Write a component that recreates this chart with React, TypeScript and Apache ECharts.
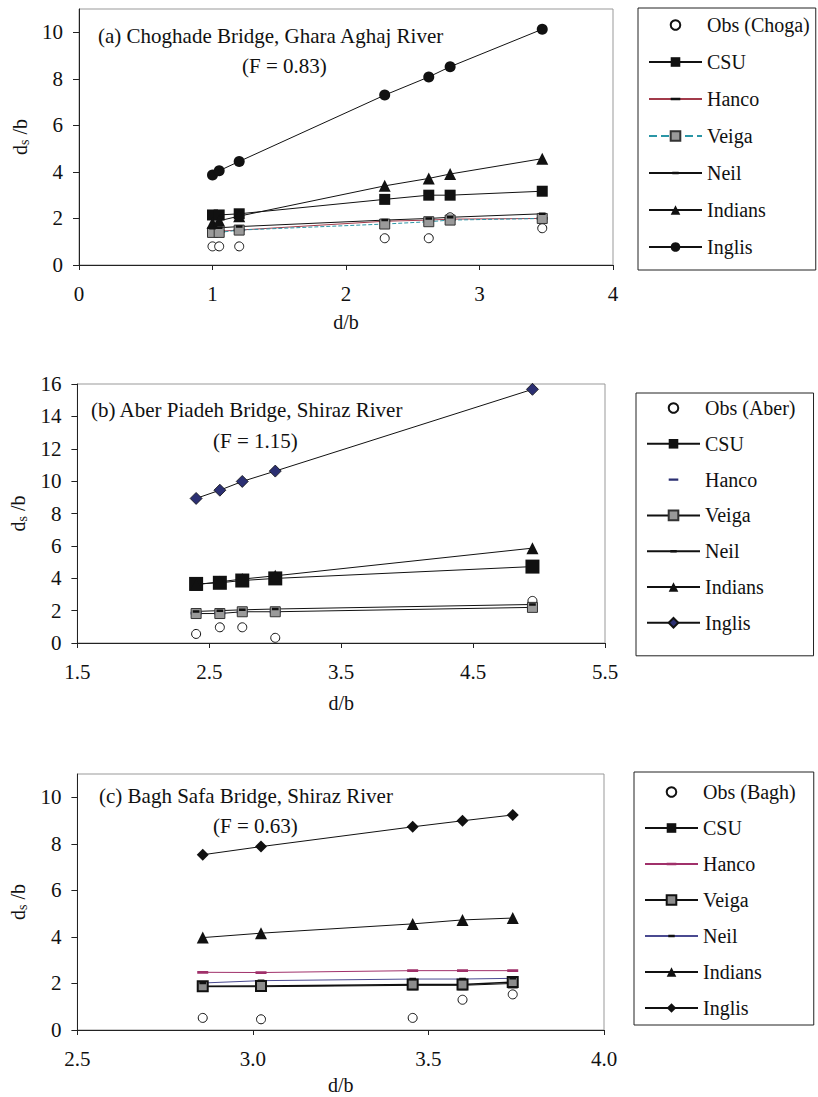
import React, { useEffect, useRef } from 'react';
import * as echarts from 'echarts';

const FONT = '"Liberation Serif", "Times New Roman", serif';

// ---------- Panel (a) Choghade Bridge ----------
const xA = [1.0, 1.05, 1.2, 2.29, 2.62, 2.78, 3.47];
const obsA = [0.8, 0.8, 0.8, 1.15, 1.15, 2.05, 1.58];
const csuA = [2.15, 2.15, 2.2, 2.82, 3.0, 3.0, 3.17];
const hancoA = [1.45, 1.45, 1.5, 1.88, 1.93, 1.97, 2.0];
const veigaA = [1.4, 1.4, 1.5, 1.76, 1.86, 1.93, 2.0];
const neilA = [1.58, 1.6, 1.65, 1.93, 2.0, 2.05, 2.2];
const indiansA = [1.8, 1.9, 2.1, 3.4, 3.72, 3.91, 4.57];
const inglisA = [3.87, 4.05, 4.45, 7.3, 8.08, 8.52, 10.13];

// ---------- Panel (b) Aber Piadeh Bridge ----------
const xB = [2.4, 2.58, 2.75, 3.0, 4.95];
const obsB = [0.56, 0.97, 0.97, 0.32, 2.6];
const csuB = [3.65, 3.72, 3.86, 3.99, 4.72];
const hancoB = [1.85, 1.85, 1.9, 1.92, 2.15];
const veigaB = [1.82, 1.82, 1.93, 1.93, 2.2];
const neilB = [1.95, 2.0, 2.05, 2.1, 2.38];
const indiansB = [3.6, 3.78, 3.95, 4.15, 5.86];
const inglisB = [8.93, 9.44, 9.98, 10.62, 15.67];

// ---------- Panel (c) Bagh Safa Bridge ----------
const xC = [2.857, 3.023, 3.455, 3.597, 3.74];
const obsC = [0.52, 0.46, 0.52, 1.3, 1.53];
const csuC = [1.86, 1.86, 1.92, 1.92, 2.0];
const hancoC = [2.48, 2.47, 2.55, 2.55, 2.55];
const veigaC = [1.88, 1.89, 1.96, 1.96, 2.06];
const neilC = [2.02, 2.12, 2.19, 2.19, 2.22];
const indiansC = [3.97, 4.16, 4.56, 4.73, 4.81];
const inglisC = [7.53, 7.88, 8.73, 8.99, 9.24];

// ---------- Axis ticks ----------
const xTicksA = [0, 1, 2, 3, 4];
const yTicksA = [0, 2, 4, 6, 8, 10];
const xTicksB = [1.5, 2.5, 3.5, 4.5, 5.5];
const yTicksB = [0, 2, 4, 6, 8, 10, 12, 14, 16];
const xTicksC = [2.5, 3.0, 3.5, 4.0];
const yTicksC = [0, 2, 4, 6, 8, 10];

const obsNames = ['Obs (Choga)', 'Obs (Aber)', 'Obs (Bagh)'];
const modelNames = ['CSU', 'Hanco', 'Veiga', 'Neil', 'Indians', 'Inglis'];
const titlesMain = [
  '(a) Choghade Bridge, Ghara Aghaj River',
  '(b) Aber Piadeh Bridge, Shiraz River',
  '(c) Bagh Safa Bridge, Shiraz River',
];
const titlesF = ['(F = 0.83)', '(F = 1.15)', '(F = 0.63)'];

// dash marker with a square bounding box (tiny corner specks keep aspect)
const DASH = 'path://M0,0L0.01,0L0,0.01ZM12,12L11.99,12L12,11.99ZM0,4.5H12V7.5H0Z';
const DASH_SMALL = 'path://M0,0L0.01,0L0,0.01ZM12,12L11.99,12L12,11.99ZM2,4.5H10V7.5H2Z';

const zip = (xs: number[], ys: number[]) => xs.map((x, i) => [x, ys[i]]);

type St = {
  symbol: string;
  size: number;
  fill: string;
  border?: string;
  borderWidth?: number;
  line?: string;
  lineType?: string;
  lineWidth?: number;
};

function mk(panel: number, name: string, xs: number[], ys: number[], st: St) {
  return {
    type: 'line',
    name: `${'abc'[panel]}:${name}`,
    xAxisIndex: panel,
    yAxisIndex: panel,
    data: zip(xs, ys),
    symbol: st.symbol,
    symbolSize: st.size,
    showSymbol: true,
    silent: true,
    itemStyle: {
      color: st.fill,
      borderColor: st.border || st.fill,
      borderWidth: st.borderWidth ?? 0,
      opacity: 1,
    },
    lineStyle: {
      color: st.line || 'rgba(0,0,0,0)',
      width: st.line ? st.lineWidth ?? 1 : 0,
      type: st.lineType || 'solid',
    },
    emphasis: { disabled: true },
  };
}

export default function App() {
  const ref = useRef<HTMLDivElement>(null);

  useEffect(() => {
    if (!ref.current) return;
    const chart = echarts.init(ref.current, null, { renderer: 'svg' });

    const grids = [
      { left: 79, top: 9, width: 534, height: 256 },
      { left: 77, top: 384, width: 528, height: 259 },
      { left: 77, top: 774, width: 527, height: 256 },
    ];
    const xRanges = [
      { min: 0, max: 4, interval: 1, ticks: xTicksA, fmt: (v: number) => String(v), gap: 47 },
      { min: 1.5, max: 5.5, interval: 1, ticks: xTicksB, fmt: (v: number) => v.toFixed(1), gap: 50 },
      { min: 2.5, max: 4.0, interval: 0.5, ticks: xTicksC, fmt: (v: number) => v.toFixed(1), gap: 45 },
    ];
    const yRanges = [
      { min: 0, max: 11, interval: 2, ticks: yTicksA },
      { min: 0, max: 16, interval: 2, ticks: yTicksB },
      { min: 0, max: 11, interval: 2, ticks: yTicksC },
    ];

    const labelStyle = { fontFamily: FONT, fontSize: 21, color: '#111' };

    const xAxis = xRanges.map((r, i) => ({
      type: 'value',
      gridIndex: i,
      min: r.min,
      max: r.max,
      interval: r.interval,
      name: 'd/b',
      nameLocation: 'middle',
      nameGap: r.gap,
      nameTextStyle: { fontFamily: FONT, fontSize: 20, color: '#111' },
      axisLine: { show: true, onZero: false, lineStyle: { color: '#222', width: 1 } },
      axisTick: { show: true, length: 5, inside: false, customValues: r.ticks, lineStyle: { color: '#222' } },
      axisLabel: { ...labelStyle, margin: 18, customValues: r.ticks, formatter: r.fmt, showMaxLabel: true, showMinLabel: true },
      splitLine: { show: false },
    }));

    const yAxis = yRanges.map((r, i) => ({
      type: 'value',
      gridIndex: i,
      min: r.min,
      max: r.max,
      interval: r.interval,
      name: '{d|d}{s|s}{d| /b}',
      nameLocation: 'middle',
      nameGap: 47,
      nameRotate: 90,
      nameTextStyle: {
        fontFamily: FONT,
        color: '#111',
        rich: {
          d: { fontFamily: FONT, fontSize: 20, color: '#111', lineHeight: 23 },
          s: { fontFamily: FONT, fontSize: 14, color: '#111', lineHeight: 14, verticalAlign: 'bottom' },
        },
      },
      axisLine: { show: true, onZero: false, lineStyle: { color: '#222', width: 1 } },
      axisTick: { show: true, length: 6, inside: false, customValues: r.ticks, lineStyle: { color: '#222' } },
      axisLabel: { ...labelStyle, margin: 16, customValues: r.ticks, showMaxLabel: true, showMinLabel: true },
      splitLine: { show: false },
    }));

    const BLK = '#111';
    const GREY = '#9a9a9a';
    const NAVY = '#2b2f72';

    const series: any[] = [
      // (a)
      mk(0, obsNames[0], xA, obsA, { symbol: 'circle', size: 9, fill: '#fff', border: BLK, borderWidth: 1 }),
      mk(0, 'CSU', xA, csuA, { symbol: 'rect', size: 11, fill: BLK, line: BLK }),
      mk(0, 'Hanco', xA, hancoA, { symbol: DASH, size: 11, fill: BLK, line: '#a23a4a' }),
      mk(0, 'Veiga', xA, veigaA, { symbol: 'rect', size: 10, fill: GREY, border: '#333', borderWidth: 1, line: '#2a96a6', lineType: 'dashed' }),
      mk(0, 'Neil', xA, neilA, { symbol: DASH_SMALL, size: 10, fill: BLK, line: BLK }),
      mk(0, 'Indians', xA, indiansA, { symbol: 'triangle', size: 12, fill: BLK, line: BLK }),
      mk(0, 'Inglis', xA, inglisA, { symbol: 'circle', size: 11, fill: BLK, line: BLK }),
      // (b)
      mk(1, obsNames[1], xB, obsB, { symbol: 'circle', size: 9, fill: '#fff', border: BLK, borderWidth: 1 }),
      mk(1, 'CSU', xB, csuB, { symbol: 'rect', size: 14, fill: BLK, line: BLK }),
      mk(1, 'Hanco', xB, hancoB, { symbol: DASH, size: 11, fill: NAVY }),
      mk(1, 'Veiga', xB, veigaB, { symbol: 'rect', size: 10, fill: GREY, border: '#333', borderWidth: 1, line: BLK }),
      mk(1, 'Neil', xB, neilB, { symbol: DASH_SMALL, size: 10, fill: BLK, line: BLK }),
      mk(1, 'Indians', xB, indiansB, { symbol: 'triangle', size: 12, fill: BLK, line: BLK }),
      mk(1, 'Inglis', xB, inglisB, { symbol: 'diamond', size: 12, fill: NAVY, border: BLK, borderWidth: 0.8, line: BLK }),
      // (c)
      mk(2, obsNames[2], xC, obsC, { symbol: 'circle', size: 9, fill: '#fff', border: BLK, borderWidth: 1 }),
      mk(2, 'CSU', xC, csuC, { symbol: 'rect', size: 10, fill: BLK, line: BLK }),
      mk(2, 'Hanco', xC, hancoC, { symbol: DASH, size: 11, fill: '#a0306a', line: '#a0306a' }),
      mk(2, 'Veiga', xC, veigaC, { symbol: 'rect', size: 10, fill: '#8c8c8c', border: BLK, borderWidth: 2, line: BLK, lineWidth: 1.5 }),
      mk(2, 'Neil', xC, neilC, { symbol: DASH_SMALL, size: 10, fill: BLK, line: '#4a4a90' }),
      mk(2, 'Indians', xC, indiansC, { symbol: 'triangle', size: 12, fill: BLK, line: BLK }),
      mk(2, 'Inglis', xC, inglisC, { symbol: 'diamond', size: 12, fill: BLK, line: BLK }),
    ];

    const legendPos = [
      { left: 638, top: 8, padding: [7, 6, 13, 10], itemGap: 17 },
      { left: 636, top: 393, padding: [5, 18, 23, 10], itemGap: 15.8 },
      { left: 634, top: 772, padding: [10, 18, 7, 10], itemGap: 16 },
    ];
    const legend = legendPos.map((p, i) => ({
      orient: 'vertical',
      left: p.left,
      top: p.top,
      padding: p.padding,
      itemGap: p.itemGap,
      itemWidth: 53,
      itemHeight: 12,
      borderColor: '#222',
      borderWidth: 1,
      selectedMode: false,
      data: [obsNames[i], ...modelNames].map((n) => `${'abc'[i]}:${n}`),
      formatter: (n: string) => n.slice(2),
      textStyle: { fontFamily: FONT, fontSize: 20, color: '#111' },
    }));

    const titlePos = [
      { x: 98, y: 37, fx: 242, fy: 67 },
      { x: 91, y: 411, fx: 213, fy: 442 },
      { x: 99, y: 797, fx: 213, fy: 827 },
    ];
    const graphic: any[] = [];
    titlePos.forEach((p, i) => {
      graphic.push({
        type: 'text',
        left: p.x,
        top: p.y - 12,
        style: { text: titlesMain[i], font: `21px ${FONT}`, fill: '#111' },
        z: 10,
      });
      graphic.push({
        type: 'text',
        left: p.fx,
        top: p.fy - 12,
        style: { text: titlesF[i], font: `21px ${FONT}`, fill: '#111' },
        z: 10,
      });
    });

    chart.setOption({
      animation: false,
      backgroundColor: '#fff',
      grid: grids.map((g) => ({ ...g, show: true, borderColor: '#999', borderWidth: 1, backgroundColor: 'transparent' })),
      xAxis,
      yAxis,
      legend,
      graphic,
      series,
    });

    return () => chart.dispose();
  }, []);

  return (
    <div
      ref={ref}
      style={{ position: 'absolute', left: 0, top: 0, width: 818, height: 1097, background: '#fff' }}
    />
  );
}
